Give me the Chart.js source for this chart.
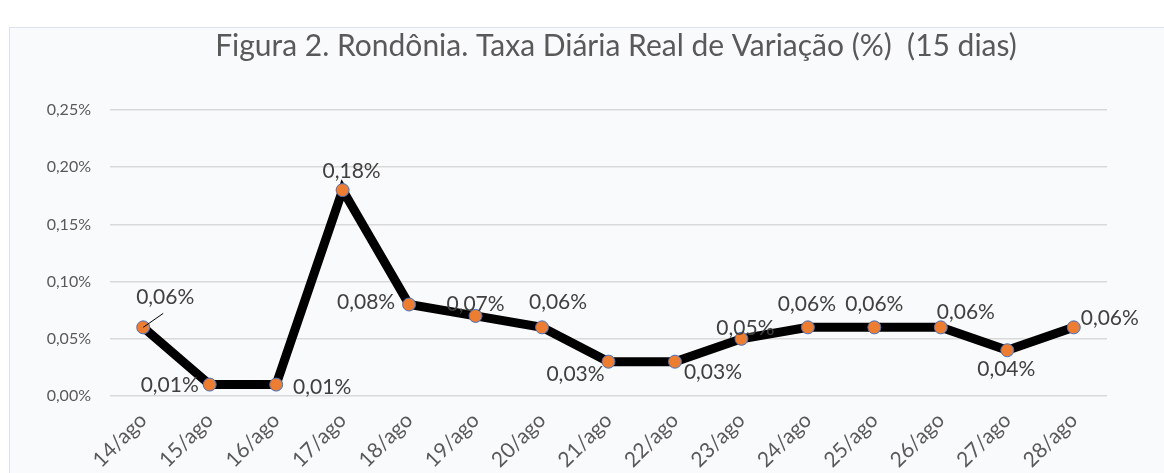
<!DOCTYPE html>
<html>
<head>
<meta charset="utf-8">
<script src="https://cdn.jsdelivr.net/npm/chart.js@4.4.1/dist/chart.umd.min.js"></script>
<style>
  html, body { margin: 0; padding: 0; background: #fff; }
  #box {
    position: absolute; left: 9px; top: 27px; width: 1170px; height: 460px;
    background: #f9fafc; border: 1px solid #dde3ec;
  }
  #wrap { position: absolute; left: 0; top: 0; width: 1164px; height: 473px; }
</style>
</head>
<body>
<div id="box"></div>
<div id="wrap"><canvas id="grafico"></canvas></div>
<script>
// Datos de la figura
const titulo = 'Figura 2. Rondônia. Taxa Diária Real de Variação (%)  (15 dias)';
const dias = ['14/ago', '15/ago', '16/ago', '17/ago', '18/ago', '19/ago', '20/ago', '21/ago',
              '22/ago', '23/ago', '24/ago', '25/ago', '26/ago', '27/ago', '28/ago'];
const taxa = [0.06, 0.01, 0.01, 0.18, 0.08, 0.07, 0.06, 0.03, 0.03, 0.05, 0.06, 0.06, 0.06, 0.04, 0.06];
const yTicks = [0, 0.05, 0.10, 0.15, 0.20, 0.25];

// Posición de cada etiqueta respecto al punto (como en Excel, colocadas a mano)
const offsetsEtiquetas = [
    [22, -30], [-40, 1], [46, 3], [9, -19], [-43, -2], [0, -12], [16, -25], [-33, 13],
    [38, 11], [4, -11], [-1, -23], [0, -23], [25, -15], [-1, 19], [36, -9]
];

const fmt = v => v.toFixed(2).replace('.', ',') + '%';

const etiquetasPlugin = {
    id: 'etiquetas',
    afterDatasetsDraw(chart) {
        const ctx = chart.ctx;
        const meta = chart.getDatasetMeta(0);
        ctx.save();
        // título centrado sobre la caja
        ctx.font = '30px Lato';
        ctx.fillStyle = '#595959';
        ctx.textAlign = 'center';
        ctx.textBaseline = 'middle';
        ctx.fillText(titulo, 616, 46);

        ctx.font = '21px Lato';
        ctx.fillStyle = '#404040';
        meta.data.forEach((pt, i) => {
            const [dx, dy] = offsetsEtiquetas[i];
            ctx.fillText(fmt(taxa[i]), pt.x + dx, pt.y + dy);
        });
        // línea guía de la primera etiqueta
        const p0 = meta.data[0];
        ctx.strokeStyle = '#000';
        ctx.lineWidth = 1;
        ctx.beginPath();
        ctx.moveTo(p0.x, p0.y);
        ctx.lineTo(p0.x + 20, p0.y - 14);
        ctx.stroke();
        ctx.restore();
    }
};

new Chart(document.getElementById('grafico'), {
    type: 'line',
    data: {
        labels: dias,
        datasets: [{
            data: taxa,
            borderColor: '#000000',
            borderWidth: 9,
            tension: 0,
            pointRadius: 6.5,
            pointBackgroundColor: '#ed7d31',
            pointBorderColor: '#4472c4',
            pointBorderWidth: 1
        }]
    },
    options: {
        responsive: true,
        maintainAspectRatio: false,
        animation: false,
        layout: { padding: { top: 110, right: 57, left: 0, bottom: 0 } },
        plugins: {
            legend: { display: false },
            tooltip: { enabled: false },
            title: { display: false }
        },
        scales: {
            x: {
                offset: true,
                grid: { display: false },
                border: { display: false },
                ticks: {
                    color: '#595959',
                    font: { family: 'Lato', size: 21 },
                    minRotation: 45,
                    maxRotation: 45,
                    padding: 4
                },
                afterFit: s => { s.height = 77; }
            },
            y: {
                min: 0,
                max: 0.25,
                afterBuildTicks: s => { s.ticks = yTicks.map(v => ({ value: v })); },
                grid: { color: '#d9d9d9', lineWidth: 1.5, drawTicks: false },
                border: { display: false },
                ticks: {
                    color: '#595959',
                    font: { family: 'Lato', size: 16 },
                    padding: 19,
                    callback: v => fmt(v)
                },
                afterFit: s => { s.width = 110; }
            }
        }
    },
    plugins: [etiquetasPlugin]
});
</script>
</body>
</html>
